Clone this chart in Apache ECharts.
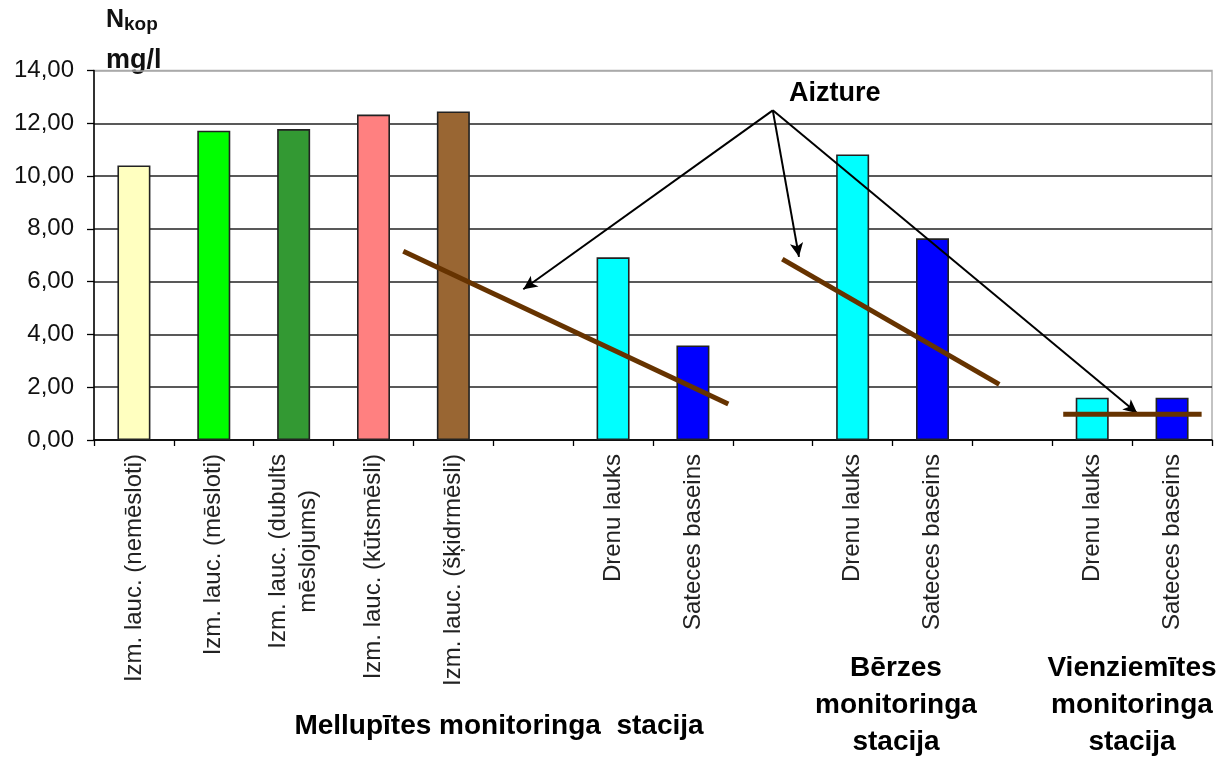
<!DOCTYPE html>
<html>
<head>
<meta charset="utf-8">
<script src="https://cdn.jsdelivr.net/npm/echarts@6/dist/echarts.min.js"></script>
<style>
html,body{margin:0;padding:0;background:#fff;}
#chart{width:1220px;height:757px;}
</style>
</head>
<body>
<div id="chart"></div>
<script>
// ---- data ----
const categories = [
  'Izm. lauc. (nemēsloti)',
  'Izm. lauc. (mēsloti)',
  'Izm. lauc. (dubults\nmēslojums)',
  'Izm. lauc. (kūtsmēsli)',
  'Izm. lauc. (šķidrmēsli)',
  '',
  'Drenu lauks',
  'Sateces baseins',
  '',
  'Drenu lauks',
  'Sateces baseins',
  '',
  'Drenu lauks',
  'Sateces baseins'
];
const values = [10.4, 11.72, 11.78, 12.33, 12.45, null, 6.92, 3.58, null, 10.82, 7.64, null, 1.6, 1.6];
const barColors = ['#FFFFC0', '#00FF00', '#339933', '#FF8080', '#996633', null,
                   '#00FFFF', '#0000FF', null, '#00FFFF', '#0000FF', null, '#00FFFF', '#0000FF'];
const yTicks = [0, 2, 4, 6, 8, 10, 12, 14];
// "Aizture" trend segments, in category-index units (x) and mg/l (y)
const aizture1 = [[3.873, 7.15], [7.943, 1.36]];
const aizture2 = [[8.619, 6.85], [11.336, 2.11]];
const aizture3 = [[12.137, 0.98], [13.87, 0.98]];
const arrowFrom = [8.5, 12.49];
const arrowTo = [[5.376, 5.71], [8.828, 6.94], [13.064, 1.01]];
const groupTitles = [
  {text: 'Mellupītes monitoringa  stacija', x: 499, y: 726},
  {text: 'Bērzes\nmonitoringa\nstacija', x: 896, y: 705},
  {text: 'Vienziemītes\nmonitoringa\nstacija', x: 1132, y: 705}
];

const FONT = "'Liberation Sans', Arial, sans-serif";
const chart = echarts.init(document.getElementById('chart'), null, {renderer: 'canvas'});

const barData = values.map((v, i) => v == null ? '-' : {
  value: v,
  itemStyle: {color: barColors[i]}
});

const segSeries = [aizture1, aizture2, aizture3].map((seg, i) => ({
  type: 'line',
  name: 'Aizture ' + (i + 1),
  xAxisIndex: 1,
  yAxisIndex: 0,
  data: seg,
  symbol: 'none',
  silent: true,
  z: 5,
  lineStyle: {color: '#663300', width: 5, cap: 'butt'},
  markLine: i === 0 ? {
    silent: true,
    symbol: ['none', 'arrow'],
    symbolSize: [10, 14],
    label: {show: false},
    lineStyle: {color: '#000', width: 2, type: 'solid'},
    data: arrowTo.map(t => [{coord: arrowFrom}, {coord: t}])
  } : undefined
}));

const option = {
  backgroundColor: '#fff',
  animation: false,
  textStyle: {fontFamily: FONT},
  grid: {left: 94, right: 8, top: 70.5, bottom: 317, show: true, borderColor: '#b0b0b0', borderWidth: 1.5, containLabel: false},
  xAxis: [{
    type: 'category',
    data: categories,
    boundaryGap: true,
    axisLine: {lineStyle: {color: '#000', width: 1.5}},
    axisTick: {show: true, length: 6, lineStyle: {color: '#000', width: 1.3}},
    axisLabel: {
      interval: 0,
      rotate: 90,
      margin: 14,
      formatter: function (v) {
        if (!v) return '';
        return v.split('\n').map(s => '{c|' + s + '}').join('\n');
      },
      rich: {c: {fontSize: 24, color: '#222', align: 'center', fontFamily: FONT, lineHeight: 30}}
    },
    splitLine: {show: false}
  }, {
    type: 'value',
    min: 0,
    max: 14,
    show: false
  }],
  yAxis: {
    type: 'value',
    min: 0,
    max: 14,
    interval: 2,
    axisLine: {show: true, lineStyle: {color: '#000', width: 1.5}},
    axisTick: {show: true, length: 7, lineStyle: {color: '#000', width: 1.3}},
    axisLabel: {
      fontSize: 24, color: '#111', margin: 20, fontFamily: FONT,
      formatter: v => v.toFixed(2).replace('.', ',')
    },
    splitLine: {show: true, lineStyle: {color: ['#222', '#222', '#222', '#222', '#222', '#222', '#222', '#a8a8a8'], width: 1.6}}
  },
  series: [{
    type: 'bar',
    name: 'Nkop',
    xAxisIndex: 0,
    data: barData,
    barWidth: 33,
    itemStyle: {borderColor: '#222', borderWidth: 1.6},
    z: 3
  }].concat(segSeries),
  graphic: [
    {type: 'text', left: 106, top: 8, style: {
      text: '{n|N}{s|kop}', fontFamily: FONT,
      rich: {n: {fontSize: 25, fontWeight: 'bold', fill: '#111', fontFamily: FONT},
             s: {fontSize: 19, fontWeight: 'bold', fill: '#111', fontFamily: FONT, verticalAlign: 'bottom', padding: [9, 0, 0, 0]}}
    }},
    {type: 'text', left: 106, top: 47, style: {text: 'mg/l', fontSize: 27, fontWeight: 'bold', fill: '#111', fontFamily: FONT}},
    {type: 'text', left: 789, top: 80, style: {text: 'Aizture', fontSize: 27, fontWeight: 'bold', fill: '#000', fontFamily: FONT}}
  ].concat(groupTitles.map(g => ({
    type: 'text', x: g.x, y: g.y,
    style: {text: g.text, fontSize: 28, fontWeight: 'bold', fill: '#000', fontFamily: FONT,
            align: 'center', verticalAlign: 'middle', lineHeight: 37}
  })))
};
chart.setOption(option);
</script>
</body>
</html>
